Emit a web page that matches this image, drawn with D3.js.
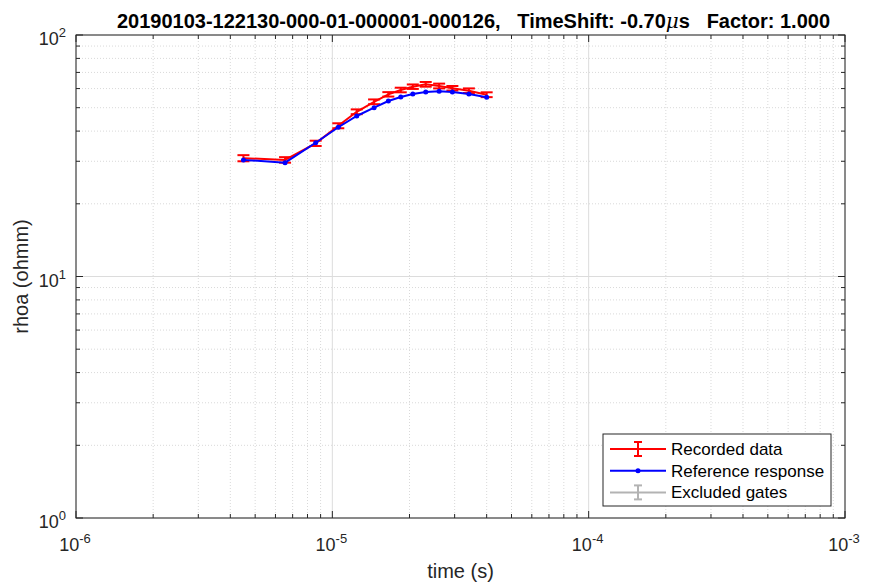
<!DOCTYPE html>
<html>
<head>
<meta charset="utf-8">
<script src="https://cdn.jsdelivr.net/npm/d3@7"></script>
<style>
  body { margin: 0; background: #fff; }
  svg { display: block; font-family: "Liberation Sans", Arial, sans-serif; }
</style>
</head>
<body>
<svg id="chart" width="869" height="582"></svg>
<script>
// gate times (s)
const gateTimes = [4.50e-6, 6.54e-6, 8.61e-6, 1.055e-5, 1.245e-5, 1.455e-5, 1.654e-5,
  1.849e-5, 2.06e-5, 2.314e-5, 2.61e-5, 2.94e-5, 3.41e-5, 4.0e-5];
// recorded apparent resistivity (ohmm) and its std
const recorded = [30.9, 30.4, 35.6, 42.1, 48.1, 52.9, 56.8, 59.2, 61.1, 62.5, 61.5, 60.2, 58.8, 56.6];
const recordedErr = [0.9, 0.8, 0.9, 1.0, 1.1, 1.2, 1.2, 1.3, 1.3, 1.4, 1.4, 1.3, 1.3, 1.3];
// reference response (ohmm)
const reference = [30.4, 29.6, 35.8, 41.5, 46.2, 50.0, 53.3, 55.4, 57.0, 58.1, 58.5, 58.1, 57.0, 55.2];

const xDomain = [1e-6, 1e-3];
const yDomain = [1, 100];
const xTickExp = [-6, -5, -4, -3];
const yTickExp = [0, 1, 2];
const legendItems = ["Recorded data", "Reference response", "Excluded gates"];

const margin = { left: 76, right: 24, top: 35, bottom: 64 };
const W = 869, H = 582;
const plotW = W - margin.left - margin.right;
const plotH = H - margin.top - margin.bottom;

const svg = d3.select('#chart');
const g = svg.append('g').attr('transform', `translate(${margin.left},${margin.top})`);

const x = d3.scaleLog().domain(xDomain).range([0, plotW]);
const y = d3.scaleLog().domain(yDomain).range([plotH, 0]);

// minor tick values for log decades
function minorTicks(domain) {
  const out = [];
  const lo = Math.round(Math.log10(domain[0]));
  const hi = Math.round(Math.log10(domain[1]));
  for (let e = lo; e < hi; e++) {
    for (let m = 2; m <= 9; m++) out.push(m * Math.pow(10, e));
  }
  return out;
}
const xMinor = minorTicks(xDomain);
const yMinor = minorTicks(yDomain);
const xMajor = xTickExp.map(e => Math.pow(10, e));
const yMajor = yTickExp.map(e => Math.pow(10, e));

// grid: minor dotted, major solid
const grid = g.append('g');
grid.selectAll('.xminor').data(xMinor).join('line')
  .attr('x1', d => x(d)).attr('x2', d => x(d)).attr('y1', 0).attr('y2', plotH)
  .attr('stroke', '#d9d9d9').attr('stroke-width', 1).attr('stroke-dasharray', '1,2');
grid.selectAll('.yminor').data(yMinor).join('line')
  .attr('y1', d => y(d)).attr('y2', d => y(d)).attr('x1', 0).attr('x2', plotW)
  .attr('stroke', '#d9d9d9').attr('stroke-width', 1).attr('stroke-dasharray', '1,2');
grid.selectAll('.xmajor').data(xMajor).join('line')
  .attr('x1', d => x(d)).attr('x2', d => x(d)).attr('y1', 0).attr('y2', plotH)
  .attr('stroke', '#dcdcdc').attr('stroke-width', 1);
grid.selectAll('.ymajor').data(yMajor).join('line')
  .attr('y1', d => y(d)).attr('y2', d => y(d)).attr('x1', 0).attr('x2', plotW)
  .attr('stroke', '#dcdcdc').attr('stroke-width', 1);

// ticks (inward, all four sides)
const tickCol = '#262626';
const ticks = g.append('g').attr('stroke', tickCol).attr('stroke-width', 1);
function vTicks(vals, len) {
  vals.forEach(v => {
    ticks.append('line').attr('x1', x(v)).attr('x2', x(v)).attr('y1', plotH).attr('y2', plotH - len);
    ticks.append('line').attr('x1', x(v)).attr('x2', x(v)).attr('y1', 0).attr('y2', len);
  });
}
function hTicks(vals, len) {
  vals.forEach(v => {
    ticks.append('line').attr('y1', y(v)).attr('y2', y(v)).attr('x1', 0).attr('x2', len);
    ticks.append('line').attr('y1', y(v)).attr('y2', y(v)).attr('x1', plotW).attr('x2', plotW - len);
  });
}
vTicks(xMinor, 4); vTicks(xMajor, 7);
hTicks(yMinor, 4); hTicks(yMajor, 7);

// box
g.append('rect').attr('x', 0).attr('y', 0).attr('width', plotW).attr('height', plotH)
  .attr('fill', 'none').attr('stroke', tickCol).attr('stroke-width', 1);

// tick labels with superscripts
g.append('g').selectAll('text').data(xTickExp).join('text')
  .attr('x', d => x(Math.pow(10, d)) - 1).attr('y', plotH + 33)
  .attr('text-anchor', 'middle').attr('fill', tickCol).attr('font-size', 18)
  .each(function(d) {
    const t = d3.select(this);
    t.append('tspan').text('10');
    t.append('tspan').attr('dy', -8).attr('font-size', 13).text('-' + Math.abs(d));
  });
g.append('g').selectAll('text').data(yTickExp).join('text')
  .attr('x', -10).attr('y', d => y(Math.pow(10, d)) + 10)
  .attr('text-anchor', 'end').attr('fill', tickCol).attr('font-size', 18)
  .each(function(d) {
    const t = d3.select(this);
    t.append('tspan').text('10');
    t.append('tspan').attr('dy', -8).attr('font-size', 13).text(String(d));
  });

// axis labels
svg.append('text').attr('x', margin.left + plotW / 2).attr('y', 578)
  .attr('text-anchor', 'middle').attr('fill', tickCol).attr('font-size', 20).text('time (s)');
svg.append('text').attr('transform', `translate(28,${margin.top + plotH / 2}) rotate(-90)`)
  .attr('text-anchor', 'middle').attr('fill', tickCol).attr('font-size', 20).text('rhoa (ohmm)');

// title
const title = svg.append('text').attr('x', margin.left + plotW / 2 + 13).attr('y', 28)
  .attr('text-anchor', 'middle').attr('fill', '#000').attr('font-size', 20).attr('font-weight', 'bold');
title.append('tspan').text('20190103-122130-000-01-000001-000126,\u00a0\u00a0\u00a0TimeShift: -0.70');
title.append('tspan').attr('font-style', 'italic').attr('font-family', '"DejaVu Serif", serif')
  .attr('font-weight', 'normal').text('\u03bc');
title.append('tspan').text('s\u00a0\u00a0\u00a0Factor: 1.000');

// data
const red = '#ff0000', blue = '#0000ff', gray = '#b3b3b3';
const recData = gateTimes.map((t, i) => ({ t, v: recorded[i], e: recordedErr[i] }));
const refData = gateTimes.map((t, i) => ({ t, v: reference[i] }));
const line = d3.line().x(d => x(d.t)).y(d => y(d.v));

const recG = g.append('g');
recG.append('path').datum(recData).attr('d', line)
  .attr('fill', 'none').attr('stroke', red).attr('stroke-width', 2);
const eb = recG.selectAll('.eb').data(recData).join('g').attr('stroke', red).attr('stroke-width', 2);
eb.append('line').attr('x1', d => x(d.t)).attr('x2', d => x(d.t))
  .attr('y1', d => y(d.v - d.e)).attr('y2', d => y(d.v + d.e));
eb.append('line').attr('x1', d => x(d.t) - 6).attr('x2', d => x(d.t) + 6)
  .attr('y1', d => y(d.v - d.e)).attr('y2', d => y(d.v - d.e));
eb.append('line').attr('x1', d => x(d.t) - 6).attr('x2', d => x(d.t) + 6)
  .attr('y1', d => y(d.v + d.e)).attr('y2', d => y(d.v + d.e));

const refG = g.append('g');
refG.append('path').datum(refData).attr('d', line)
  .attr('fill', 'none').attr('stroke', blue).attr('stroke-width', 2);
refG.selectAll('circle').data(refData).join('circle')
  .attr('cx', d => x(d.t)).attr('cy', d => y(d.v)).attr('r', 2.5).attr('fill', blue);

// legend
const lg = svg.append('g').attr('transform', 'translate(603,434)');
lg.append('rect').attr('width', 228).attr('height', 72)
  .attr('fill', '#fff').attr('stroke', tickCol).attr('stroke-width', 1);
const legendColors = [red, blue, gray];
legendItems.forEach((name, i) => {
  const cy = 15 + i * 21.7;
  const c = legendColors[i];
  const row = lg.append('g');
  row.append('line').attr('x1', 7).attr('x2', 63).attr('y1', cy).attr('y2', cy)
    .attr('stroke', c).attr('stroke-width', 2);
  if (i === 1) {
    row.append('circle').attr('cx', 35).attr('cy', cy).attr('r', 2.5).attr('fill', c);
  } else {
    row.append('line').attr('x1', 35).attr('x2', 35).attr('y1', cy - 7).attr('y2', cy + 7)
      .attr('stroke', c).attr('stroke-width', 2);
    row.append('line').attr('x1', 31).attr('x2', 39).attr('y1', cy - 7).attr('y2', cy - 7)
      .attr('stroke', c).attr('stroke-width', 2);
    row.append('line').attr('x1', 31).attr('x2', 39).attr('y1', cy + 7).attr('y2', cy + 7)
      .attr('stroke', c).attr('stroke-width', 2);
  }
  row.append('text').attr('x', 68).attr('y', cy + 6).attr('font-size', 17)
    .attr('fill', '#000').text(name);
});
</script>
</body>
</html>
